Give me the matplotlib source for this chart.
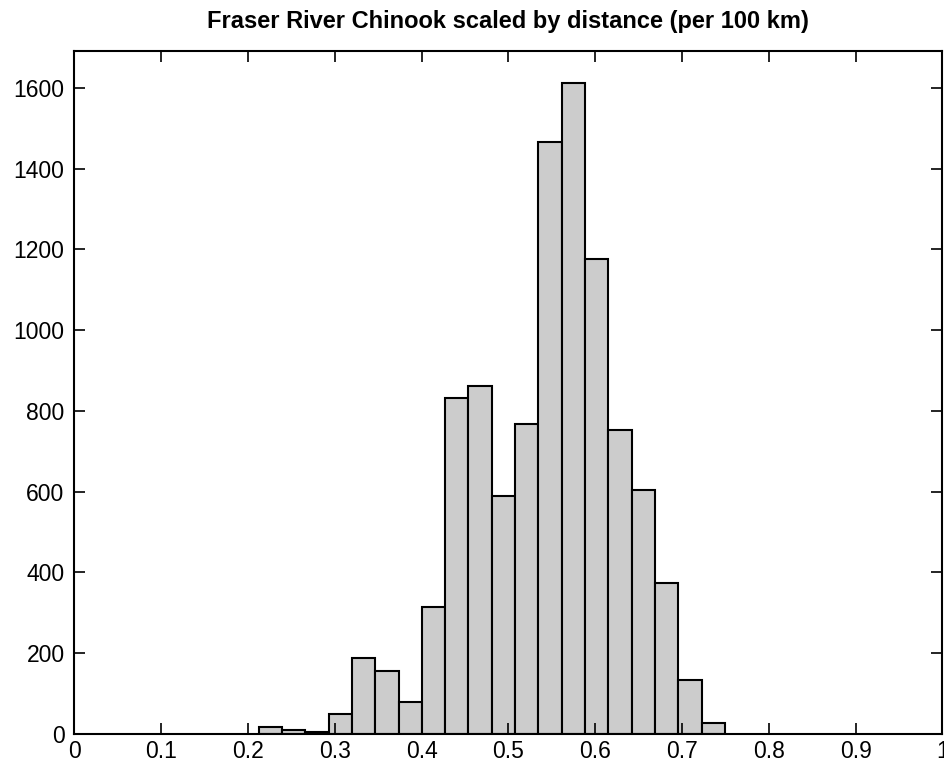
import matplotlib
matplotlib.use("Agg")
import matplotlib.pyplot as plt
import numpy as np
from matplotlib import font_manager

names = {f.name for f in font_manager.fontManager.ttflist}
fam = "Liberation Sans Narrow" if "Liberation Sans Narrow" in names else "Liberation Sans"
plt.rcParams['font.family'] = [fam, 'DejaVu Sans']

# Data
bin_low = 0.2122
bin_high = 0.7496
counts = [18, 10, 4, 50, 187, 157, 79, 315, 831, 862, 589, 768,
          1466, 1613, 1177, 752, 603, 375, 134, 28]
title = "Fraser River Chinook scaled by distance (per 100 km)"
xticks = [0, 0.1, 0.2, 0.3, 0.4, 0.5, 0.6, 0.7, 0.8, 0.9, 1]
xticklabels = ["0", "0.1", "0.2", "0.3", "0.4", "0.5", "0.6", "0.7", "0.8", "0.9", "1"]
yticks = [0, 200, 400, 600, 800, 1000, 1200, 1400, 1600]

edges = np.linspace(bin_low, bin_high, len(counts) + 1)

fig = plt.figure(figsize=(9.45, 7.69), dpi=100)
W, H = 945, 769
ax = fig.add_axes([74.3 / W, (H - 734) / H, (942.5 - 74.3) / W, (734 - 50.7) / H])
ax.bar(edges[:-1], counts, width=np.diff(edges), align='edge',
       color='#cccccc', edgecolor='black', linewidth=1.5)
ax.set_xlim(0, 1)
ax.set_ylim(0, 1692)
ax.set_xticks(xticks)
ax.set_xticklabels(xticklabels)
ax.set_yticks(yticks)
ax.tick_params(direction='in', length=8, width=1.2, top=True, right=True,
               labelsize=16.5)
ax.tick_params(axis='y', pad=7)
ax.tick_params(axis='x', pad=4)
for s in ax.spines.values():
    s.set_linewidth(1.5)
ax.set_title(title, fontsize=17, fontweight='bold', pad=16)
fig.savefig("out.png", dpi=100)
